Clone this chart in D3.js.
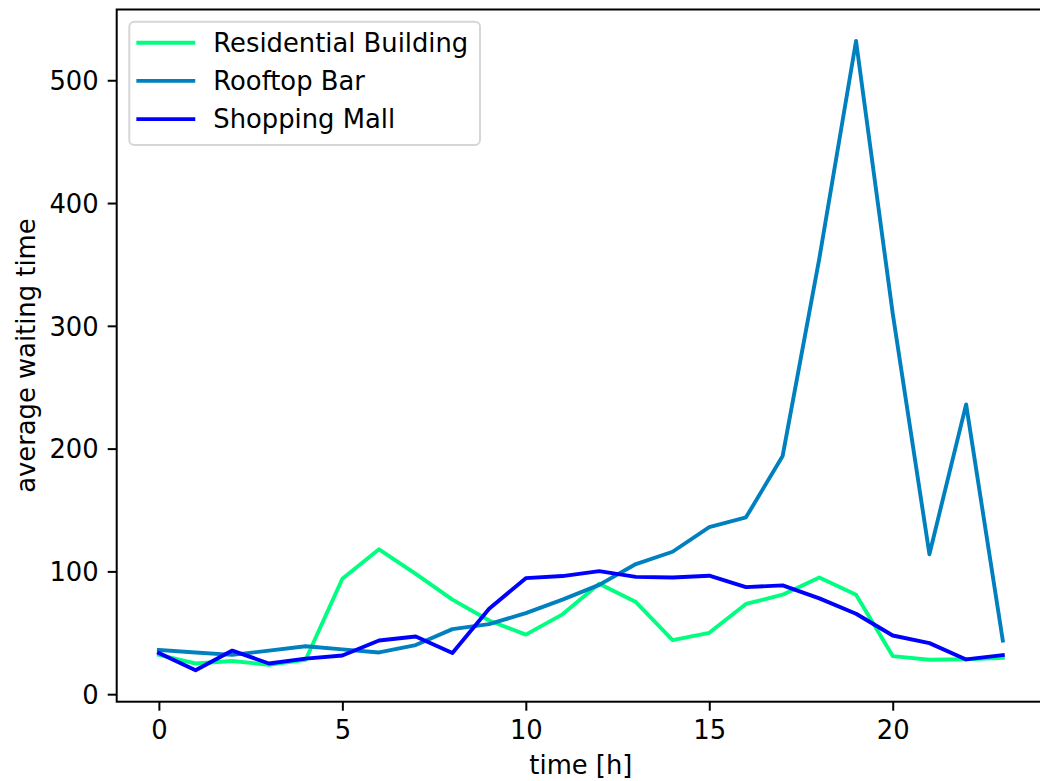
<!DOCTYPE html>
<html>
<head>
<meta charset="utf-8">
<script src="https://cdn.jsdelivr.net/npm/d3@7"></script>
<style>
  body { margin: 0; background: #fff; }
  svg text { font-family: "DejaVu Sans", sans-serif; fill: #000; }
</style>
</head>
<body>
<svg id="chart" width="1040" height="781"></svg>
<script>
// hours of the day
let hours = d3.range(0, 24);

// average waiting time per hour
let residential = [32, 25, 27, 24, 28, 94, 118, 98, 77, 60, 48.5, 65, 90, 75, 44, 50, 73.5, 81, 95, 81, 31, 28, 28.5, 29.5];
let rooftop = [36, 34, 32, 35.5, 39, 36.5, 34, 40, 53, 57, 66, 77, 89, 106, 116, 136, 144, 194, 355, 532, 310, 114, 236, 43.7];
let mall = [33.5, 19.5, 35.5, 25, 29, 31.5, 43.7, 47, 33.5, 69.5, 94.5, 96.2, 100.2, 95.5, 95, 96.5, 87.2, 88.6, 78, 65.5, 47.8, 41.6, 28.3, 31.8];

let seriesNames = ["Residential Building", "Rooftop Bar", "Shopping Mall"];
let seriesColors = ["#00ff80", "#0080bf", "#0000ff"];
let xTicks = [0, 5, 10, 15, 20];
let yTicks = [0, 100, 200, 300, 400, 500];

let series = [residential, rooftop, mall].map((vals, i) => ({
    name: seriesNames[i],
    color: seriesColors[i],
    values: vals.map((v, j) => ({ h: hours[j], v: v }))
}));

let LEFT = 116.7, RIGHT = 1045, TOP = 9.5, BOTTOM = 701.7;
let FONT = 25.8;

// matplotlib style 5% margins
let xExt = d3.extent(hours);
let xPad = (xExt[1] - xExt[0]) * 0.05;
let allVals = residential.concat(rooftop, mall);
let yExt = d3.extent(allVals);
let yPad = (yExt[1] - yExt[0]) * 0.05;

let xScale = d3.scaleLinear()
    .domain([xExt[0] - xPad, xExt[1] + xPad])
    .range([LEFT, RIGHT]);

let yScale = d3.scaleLinear()
    .domain([yExt[0] - yPad, yExt[1] + yPad])
    .range([BOTTOM, TOP]);

let svg = d3.select('#chart');

svg.append('rect').attr('width', 1040).attr('height', 781).attr('fill', '#fff');

svg.append('defs').append('clipPath').attr('id', 'plotclip')
    .append('rect')
    .attr('x', LEFT).attr('y', TOP)
    .attr('width', RIGHT - LEFT).attr('height', BOTTOM - TOP);

// lines
let lineGenerator = d3.line()
    .x(d => xScale(d.h))
    .y(d => yScale(d.v));

svg.append('g').attr('clip-path', 'url(#plotclip)')
    .selectAll('path')
    .data(series)
    .join('path')
    .attr('d', d => lineGenerator(d.values))
    .attr('fill', 'none')
    .attr('stroke', d => d.color)
    .attr('stroke-width', 3.9)
    .attr('stroke-linejoin', 'round')
    .attr('stroke-linecap', 'square');

// x axis
let xAxis = svg.append('g')
    .attr('transform', `translate(0,${BOTTOM})`)
    .call(d3.axisBottom(xScale).tickValues(xTicks).tickSize(9).tickPadding(9).tickFormat(d3.format('d')));
xAxis.select('.domain').remove();
xAxis.selectAll('line').attr('stroke', '#000').attr('stroke-width', 2);
xAxis.selectAll('text').attr('font-size', FONT).attr('dy', '0.73em').style('font-family', '"DejaVu Sans", sans-serif');

// y axis
let yAxis = svg.append('g')
    .attr('transform', `translate(${LEFT},0)`)
    .call(d3.axisLeft(yScale).tickValues(yTicks).tickSize(9).tickPadding(9).tickFormat(d3.format('d')));
yAxis.select('.domain').remove();
yAxis.selectAll('line').attr('stroke', '#000').attr('stroke-width', 2);
yAxis.selectAll('text').attr('font-size', FONT).attr('dy', '0.36em').style('font-family', '"DejaVu Sans", sans-serif');

// spines
svg.append('rect')
    .attr('x', LEFT).attr('y', TOP)
    .attr('width', RIGHT - LEFT).attr('height', BOTTOM - TOP)
    .attr('fill', 'none')
    .attr('stroke', '#000')
    .attr('stroke-width', 2);

// axis labels
svg.append('text')
    .attr('x', (LEFT + RIGHT) / 2)
    .attr('y', 774)
    .attr('text-anchor', 'middle')
    .attr('font-size', FONT)
    .text('time [h]');

svg.append('text')
    .attr('transform', `translate(35,${(TOP + BOTTOM) / 2}) rotate(-90)`)
    .attr('text-anchor', 'middle')
    .attr('font-size', FONT)
    .text('average waiting time');

// legend
let legend = svg.append('g').attr('transform', 'translate(129.3,21.7)');
legend.append('rect')
    .attr('width', 350.7).attr('height', 123.3)
    .attr('rx', 5).attr('ry', 5)
    .attr('fill', 'rgba(255,255,255,0.8)')
    .attr('stroke', '#d6d6d6')
    .attr('stroke-width', 2);

let rows = legend.selectAll('g.row')
    .data(series)
    .join('g')
    .attr('class', 'row')
    .attr('transform', (d, i) => `translate(0,${21 + i * 38.2})`);

rows.append('line')
    .attr('x1', 9).attr('x2', 64)
    .attr('stroke', d => d.color)
    .attr('stroke-width', 3.9)
    .attr('stroke-linecap', 'square');

rows.append('text')
    .attr('x', 84)
    .attr('y', 9)
    .attr('font-size', FONT)
    .text(d => d.name);
</script>
</body>
</html>
